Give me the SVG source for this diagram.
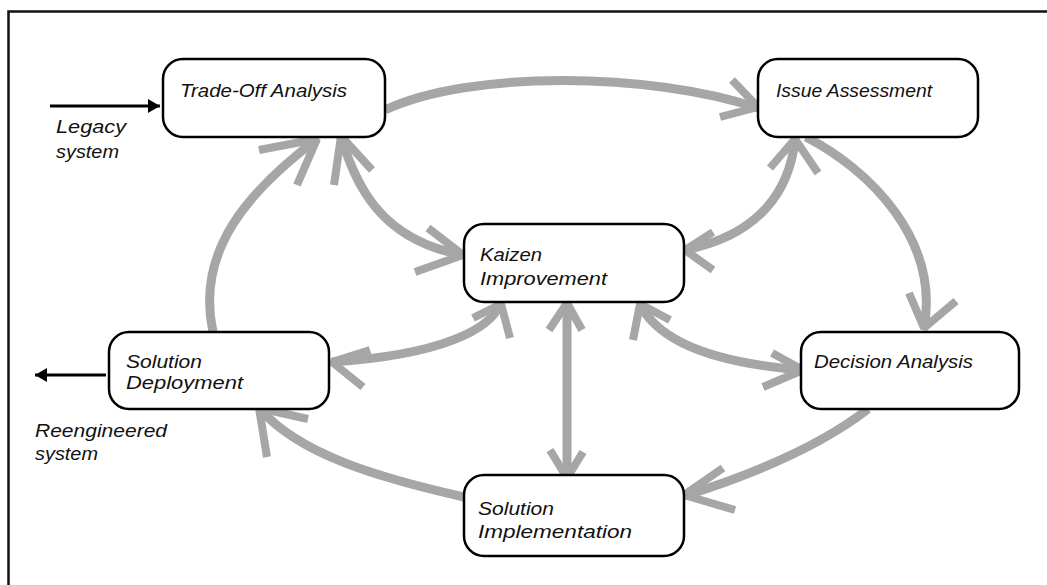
<svg xmlns="http://www.w3.org/2000/svg" width="1047" height="585" viewBox="0 0 1047 585">
  <defs>
    <style>
      .frame { fill: none; stroke: #111; stroke-width: 2.5; }
      .box { fill: #fff; stroke: #000; stroke-width: 2.5; }
      .lbl { font-family: "Liberation Sans", Arial, sans-serif; font-style: italic; font-size: 19px; fill: #111; }
      .flow { fill: none; stroke: #a6a6a6; stroke-width: 9; stroke-linecap: butt; }
      .head { fill: none; stroke: #a6a6a6; stroke-width: 8; stroke-linecap: butt; stroke-linejoin: bevel; }
      .io { fill: none; stroke: #000; stroke-width: 3; }
    </style>
    <marker id="tri" markerUnits="userSpaceOnUse" markerWidth="16" markerHeight="16" refX="14" refY="8" orient="auto" overflow="visible">
      <path d="M2,1 L14,8 L2,15 Z" fill="#000"/>
    </marker>
  </defs>

  <rect width="1047" height="585" fill="#fff"/>

  <!-- outer frame (open on right and bottom) -->
  <path class="frame" d="M8.5,585 L8.5,11.5 L1047,11.5"/>

  <!-- process cycle connectors -->
  <g id="connectors">
    <!-- Trade-Off -> Issue Assessment -->
    <path class="flow" d="M385,110 C470,70 650,72 758,108"/>
    <path class="head" d="M732,80 L758,107 L720,117"/>
    <!-- Issue Assessment -> Decision Analysis -->
    <path class="flow" d="M806,137 C870,170 940,240 924,328"/>
    <path class="head" d="M909,293 L924,328 L956,301"/>
    <!-- Decision Analysis -> Solution Implementation -->
    <path class="flow" d="M868,409 Q805,458 684,496"/>
    <path class="head" d="M723,468 L684,495 L735,510"/>
    <!-- Solution Implementation -> Solution Deployment -->
    <path class="flow" d="M464,497 C380,478 300,455 260,409"/>
    <path class="head" d="M308,419 L259,408 L267,457"/>
    <!-- Solution Deployment -> Trade-Off -->
    <path class="flow" d="M213,332 C195,250 250,190 317,139"/>
    <path class="head" d="M259,150 L317,139 L297,185"/>
    <!-- Trade-Off <-> Kaizen -->
    <path class="flow" d="M341,137 C356,185 380,240 463,255"/>
    <path class="head" d="M334,185 L341,136 L372,170"/>
    <path class="head" d="M428,228 L463,255 L415,272"/>
    <!-- Issue Assessment <-> Kaizen -->
    <path class="flow" d="M795,139 C790,190 760,235 685,250"/>
    <path class="head" d="M770,168 L795,139 L818,173"/>
    <path class="head" d="M713,232 L685,250 L713,270"/>
    <!-- Kaizen <-> Decision Analysis -->
    <path class="flow" d="M640,304 C655,335 700,362 803,370"/>
    <path class="head" d="M633,340 L640,304 L670,320"/>
    <path class="head" d="M772,353 L803,370 L763,387"/>
    <!-- Kaizen <-> Solution Deployment -->
    <path class="flow" d="M500,304 C490,330 440,355 332,362"/>
    <path class="head" d="M473,318 L501,304 L510,338"/>
    <path class="head" d="M370,350 L332,362 L363,387"/>
    <!-- Kaizen <-> Solution Implementation -->
    <path class="flow" d="M567,303 L567,478"/>
    <path class="head" d="M549,330 L567,303 L582,330"/>
    <path class="head" d="M550,450 L567,478 L583,452"/>
    <!-- system input / output -->
    <path class="io" d="M50,106 L160,106" marker-end="url(#tri)"/>
    <path class="io" d="M106,375 L35,375" marker-end="url(#tri)"/>
  </g>

  <g id="trade-off-analysis">
    <rect class="box" x="163" y="59" width="222" height="78" rx="20"/>
    <text class="lbl" x="180" y="97" textLength="167" lengthAdjust="spacingAndGlyphs">Trade-Off Analysis</text>
  </g>

  <g id="issue-assessment">
    <rect class="box" x="758" y="59" width="220" height="78" rx="20"/>
    <text class="lbl" x="776" y="97" textLength="156" lengthAdjust="spacingAndGlyphs">Issue Assessment</text>
  </g>

  <g id="kaizen-improvement">
    <rect class="box" x="464" y="224" width="220" height="78" rx="20"/>
    <text class="lbl" x="480" y="261" textLength="62" lengthAdjust="spacingAndGlyphs">Kaizen</text>
    <text class="lbl" x="480" y="285" textLength="127" lengthAdjust="spacingAndGlyphs">Improvement</text>
  </g>

  <g id="solution-deployment">
    <rect class="box" x="109" y="332" width="220" height="77" rx="20"/>
    <text class="lbl" x="126" y="368" textLength="76" lengthAdjust="spacingAndGlyphs">Solution</text>
    <text class="lbl" x="126" y="389" textLength="117" lengthAdjust="spacingAndGlyphs">Deployment</text>
  </g>

  <g id="decision-analysis">
    <rect class="box" x="801" y="332" width="218" height="77" rx="20"/>
    <text class="lbl" x="814" y="368" textLength="159" lengthAdjust="spacingAndGlyphs">Decision Analysis</text>
  </g>

  <g id="solution-implementation">
    <rect class="box" x="464" y="475" width="220" height="81" rx="20"/>
    <text class="lbl" x="478" y="515" textLength="76" lengthAdjust="spacingAndGlyphs">Solution</text>
    <text class="lbl" x="478" y="538" textLength="154" lengthAdjust="spacingAndGlyphs">Implementation</text>
  </g>

  <g id="legacy-label">
    <text class="lbl" x="56" y="133" textLength="70" lengthAdjust="spacingAndGlyphs">Legacy</text>
    <text class="lbl" x="56" y="158" textLength="63" lengthAdjust="spacingAndGlyphs">system</text>
  </g>

  <g id="reengineered-label">
    <text class="lbl" x="35" y="437" textLength="132" lengthAdjust="spacingAndGlyphs">Reengineered</text>
    <text class="lbl" x="35" y="460" textLength="63" lengthAdjust="spacingAndGlyphs">system</text>
  </g>
</svg>
